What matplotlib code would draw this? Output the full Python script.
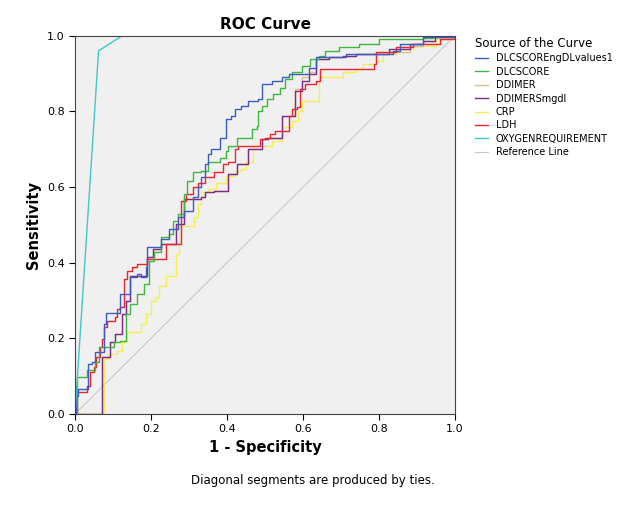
import matplotlib
matplotlib.use("Agg")
import matplotlib.pyplot as plt

names = ["DLCSCOREngDLvalues1", "DLCSCORE", "DDIMER", "DDIMERSmgdl", "CRP", "LDH",
         "OXYGENREQUIREMENT", "Reference Line"]
colors = ["#3D5CC4", "#3DB83D", "#D8C08C", "#7D2A8C", "#F5F050", "#E8262B", "#43C6C6", "#C8C8C8"]

blue = [(0,0),(0.003,0.048),(0.009,0.066),(0.027,0.066),(0.035,0.132),(0.044,0.137),(0.053,0.163),(0.073,0.163),(0.075,0.238),(0.082,0.266),(0.106,0.266),(0.118,0.317),(0.146,0.361),(0.164,0.370),(0.173,0.361),(0.186,0.388),(0.190,0.441),(0.226,0.463),(0.243,0.463),(0.248,0.489),(0.270,0.520),(0.288,0.537),(0.310,0.573),(0.323,0.599),(0.332,0.626),(0.341,0.661),(0.350,0.687),(0.358,0.700),(0.381,0.731),(0.398,0.780),(0.411,0.789),(0.420,0.806),(0.438,0.815),(0.456,0.828),(0.482,0.833),(0.491,0.872),(0.518,0.881),(0.544,0.890),(0.562,0.899),(0.580,0.899),(0.615,0.916),(0.633,0.943),(0.668,0.943),(0.712,0.952),(0.757,0.952),(0.827,0.952),(0.836,0.960),(0.854,0.978),(0.916,0.996),(1,1)]
green = [(0,0),(0.004,0.070),(0.004,0.097),(0.027,0.097),(0.031,0.115),(0.044,0.115),(0.053,0.137),(0.062,0.176),(0.084,0.176),(0.102,0.189),(0.119,0.194),(0.133,0.264),(0.146,0.291),(0.164,0.317),(0.181,0.344),(0.195,0.405),(0.208,0.427),(0.226,0.467),(0.248,0.476),(0.257,0.511),(0.270,0.529),(0.288,0.581),(0.296,0.617),(0.310,0.639),(0.332,0.643),(0.350,0.665),(0.381,0.678),(0.398,0.696),(0.403,0.709),(0.425,0.731),(0.460,0.731),(0.465,0.753),(0.478,0.762),(0.482,0.802),(0.491,0.815),(0.504,0.833),(0.522,0.846),(0.540,0.863),(0.553,0.885),(0.571,0.903),(0.597,0.921),(0.619,0.938),(0.642,0.947),(0.659,0.960),(0.695,0.969),(0.748,0.978),(0.801,0.991),(0.916,0.993),(0.942,1),(1,1)]
ddimer = [(0,0),(0.071,0.150),(0.093,0.189),(0.106,0.211),(0.115,0.211),(0.124,0.264),(0.133,0.300),(0.146,0.366),(0.177,0.366),(0.190,0.414),(0.204,0.436),(0.226,0.449),(0.265,0.502),(0.288,0.568),(0.310,0.568),(0.332,0.573),(0.341,0.586),(0.367,0.590),(0.403,0.634),(0.425,0.661),(0.442,0.661),(0.456,0.700),(0.478,0.700),(0.491,0.727),(0.509,0.731),(0.544,0.789),(0.580,0.860),(0.597,0.890),(0.615,0.903),(0.633,0.938),(0.668,0.943),(0.704,0.947),(0.739,0.952),(0.827,0.956),(0.881,0.974),(0.916,0.987),(0.947,0.996),(1,1)]
ddimers = [(0,0),(0.071,0.150),(0.093,0.189),(0.106,0.211),(0.115,0.211),(0.124,0.264),(0.133,0.300),(0.146,0.366),(0.177,0.366),(0.190,0.414),(0.204,0.436),(0.226,0.449),(0.265,0.502),(0.288,0.568),(0.310,0.568),(0.332,0.573),(0.341,0.586),(0.367,0.590),(0.403,0.634),(0.425,0.661),(0.442,0.661),(0.456,0.700),(0.478,0.700),(0.491,0.727),(0.509,0.731),(0.544,0.789),(0.580,0.855),(0.597,0.881),(0.615,0.899),(0.633,0.938),(0.668,0.943),(0.704,0.947),(0.739,0.952),(0.827,0.965),(0.881,0.978),(0.916,0.987),(0.947,0.996),(1,1)]
crp = [(0,0),(0.075,0.145),(0.088,0.159),(0.111,0.167),(0.124,0.189),(0.137,0.216),(0.164,0.216),(0.173,0.238),(0.186,0.264),(0.199,0.300),(0.212,0.308),(0.221,0.339),(0.239,0.366),(0.261,0.366),(0.265,0.423),(0.274,0.498),(0.301,0.498),(0.314,0.520),(0.323,0.555),(0.332,0.586),(0.350,0.595),(0.372,0.612),(0.398,0.630),(0.420,0.643),(0.438,0.648),(0.451,0.665),(0.469,0.709),(0.518,0.722),(0.544,0.758),(0.571,0.775),(0.588,0.802),(0.597,0.828),(0.633,0.828),(0.642,0.890),(0.695,0.890),(0.704,0.903),(0.739,0.912),(0.757,0.925),(0.792,0.934),(0.810,0.952),(0.845,0.965),(0.889,0.974),(0.925,0.974),(0.951,0.991),(1,1)]
ldh = [(0,0),(0.004,0.057),(0.022,0.057),(0.031,0.075),(0.040,0.110),(0.049,0.123),(0.056,0.150),(0.065,0.176),(0.071,0.198),(0.075,0.229),(0.084,0.247),(0.106,0.256),(0.111,0.278),(0.119,0.282),(0.128,0.357),(0.137,0.379),(0.150,0.388),(0.164,0.396),(0.190,0.410),(0.235,0.410),(0.239,0.449),(0.265,0.449),(0.279,0.564),(0.292,0.581),(0.310,0.599),(0.323,0.612),(0.341,0.626),(0.367,0.639),(0.389,0.661),(0.403,0.665),(0.420,0.700),(0.429,0.709),(0.482,0.709),(0.487,0.727),(0.500,0.731),(0.513,0.740),(0.527,0.749),(0.544,0.749),(0.562,0.789),(0.571,0.806),(0.584,0.811),(0.593,0.859),(0.606,0.872),(0.633,0.881),(0.646,0.912),(0.748,0.912),(0.788,0.925),(0.792,0.956),(0.827,0.956),(0.845,0.969),(0.889,0.978),(0.951,0.978),(0.960,0.991),(1,0.991)]
oxygen = [(0,0),(0.062,0.96),(0.124,1),(1,1)]
reference = [(0,0),(1,1)]
curves = [blue, green, ddimer, ddimers, crp, ldh, oxygen, reference]

fig = plt.figure(figsize=(6.25, 5.26), dpi=100)
ax = fig.add_axes([0.12, 0.213, 0.608, 0.719])
ax.set_facecolor("#F0F0F0")
order = [7, 4, 2, 3, 5, 1, 0, 6]
lines = {}
for i in order:
    xs = [p[0] for p in curves[i]]
    ys = [p[1] for p in curves[i]]
    lw = 0.8 if i == 7 else 1.0
    ds = "default" if i in (6, 7) else "steps-post"
    lines[i], = ax.plot(xs, ys, color=colors[i], lw=lw, label=names[i], drawstyle=ds)

ax.set_xlim(0, 1)
ax.set_ylim(0, 1)
ticks = [0.0, 0.2, 0.4, 0.6, 0.8, 1.0]
ax.set_xticks(ticks)
ax.set_yticks(ticks)
ax.tick_params(labelsize=8, length=4)
for s in ax.spines.values():
    s.set_color("#444444")
ax.set_xlabel("1 - Specificity", fontsize=10.5, fontweight="bold")
ax.set_ylabel("Sensitivity", fontsize=10.5, fontweight="bold")
ax.set_title("ROC Curve", fontsize=11, fontweight="bold", pad=5)

leg = ax.legend([lines[i] for i in range(8)], names, loc="upper left",
                bbox_to_anchor=(1.03, 1.02), frameon=False, fontsize=7,
                title="Source of the Curve", title_fontsize=8.5,
                handlelength=1.3, labelspacing=0.35)
leg._legend_box.align = "left"

fig.text(0.5, 0.08, "Diagonal segments are produced by ties.", ha="center", fontsize=8.5)
fig.savefig("out.png", dpi=100)
